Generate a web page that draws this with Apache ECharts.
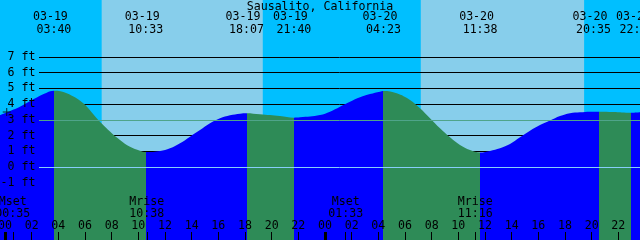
<!DOCTYPE html>
<html><head><meta charset="utf-8">
<script src="https://cdn.jsdelivr.net/npm/echarts@6/dist/echarts.min.js"></script>
<style>html,body{margin:0;padding:0;background:#00BFFF}#c{width:640px;height:240px}</style>
</head><body><div id="c"></div>
<script>
// ---------- data (hours counted from 03-19 00:00 local) ----------
const chartTitle = 'Sausalito, California';
const viewStartHour = -0.375;   // 03-18 23:37
const viewEndHour = 47.625;     // 03-20 23:37

// tide height samples
const tideHours = [-0.375, 1.125, 2.12, 3.13, 3.667, 4.63, 5.87, 6.88, 7.875, 8.625, 9.375, 10.125, 10.55,
  11.625, 12.375, 13.125, 13.875, 14.625, 15.375, 16.125, 16.875, 17.625, 18.117, 19.125, 20.625, 21.667,
  22.125, 23.625, 24.375, 25.125, 25.875, 26.625, 27.375, 28.125, 28.383, 29.38, 30.375, 31.125, 31.875,
  32.625, 33.375, 34.125, 34.875, 35.633, 36.375, 37.125, 37.875, 38.625, 39.375, 40.125, 40.875, 41.625,
  42.375, 43.125, 43.875, 44.583, 45.6, 46.95, 47.625];
const tideFeet = [3.31, 3.84, 4.31, 4.73, 4.85, 4.69, 4.05, 3.10, 2.26, 1.72, 1.29, 1.04, 0.95,
  1.02, 1.19, 1.51, 1.93, 2.35, 2.78, 3.10, 3.29, 3.39, 3.42, 3.35, 3.24, 3.14,
  3.16, 3.31, 3.52, 3.84, 4.15, 4.43, 4.64, 4.79, 4.83, 4.69, 4.26, 3.73, 3.10,
  2.46, 1.89, 1.40, 1.08, 0.92, 1.02, 1.19, 1.46, 1.89, 2.31, 2.67, 2.95, 3.24,
  3.42, 3.48, 3.52, 3.52, 3.50, 3.45, 3.48];

// high / low tide events
const eventKinds = ['High', 'Low', 'High', 'Low', 'High', 'Low', 'High', 'Low'];
const eventDates = ['03-19', '03-19', '03-19', '03-19', '03-20', '03-20', '03-20', '03-20'];
const eventTimes = ['03:40', '10:33', '18:07', '21:40', '04:23', '11:38', '20:35', '22:57'];

// moon events
const moonKinds = ['Mset', 'Mrise', 'Mset', 'Mrise'];
const moonDates = ['03-19', '03-19', '03-20', '03-20'];
const moonTimes = ['00:35', '10:38', '01:33', '11:16'];

// sun events
const sunKinds = ['rise', 'set', 'rise', 'set'];
const sunDates = ['03-19', '03-19', '03-20', '03-20'];
const sunTimes = ['07:15', '19:20', '07:11', '19:26'];

// axis ticks
const hourTicks = [0, 2, 4, 6, 8, 10, 12, 14, 16, 18, 20, 22, 24, 26, 28, 30, 32, 34, 36, 38, 40, 42, 44, 46];
const midnightTicks = [0, 24];
const footTicks = [-1, 0, 1, 2, 3, 4, 5, 6, 7];
const datumFeet = 0;
const meanSeaLevelFeet = 2.97;
const nowMark = [0.13, 3.5];

// ---------- layout ----------
const eventLabelNudgePx = [0, 0, 0, 0, 0, 0, -6, 6]; // crowded labels pushed apart
const dateLineShiftPx = -3.5;

// ---------- build ----------
function toHours(date, time) {
  const day = +date.split('-')[1];
  const [hh, mm] = time.split(':').map(Number);
  return (day - 19) * 24 + hh + mm / 60;
}
const eventHours = eventDates.map((d, i) => toHours(d, eventTimes[i]));
const moonHours = moonDates.map((d, i) => toHours(d, moonTimes[i]));
const sunHours = sunDates.map((d, i) => toHours(d, sunTimes[i]));

const FONT = 'DejaVu Sans Mono';
const FS = 11.6;
const FLOOD = '#0000FF', EBB = '#2E8B57', DAY = '#87CEEB', NIGHT = '#00BFFF';
const yMin = -4.644, yMax = 10.623;

const dayBands = [];
sunKinds.forEach((k, i) => {
  if (k === 'rise') dayBands.push([{ xAxis: sunHours[i] }, { xAxis: i + 1 < sunHours.length ? sunHours[i + 1] : viewEndHour }]);
});

const pieces = [];
eventHours.forEach((h, i) => {
  const color = eventKinds[i] === 'High' ? FLOOD : EBB;
  if (i === 0) pieces.push({ lt: h, color });
  else pieces.push({ gte: eventHours[i - 1], lt: h, color });
});
pieces.push({ gte: eventHours[eventHours.length - 1], color: eventKinds[eventKinds.length - 1] === 'High' ? EBB : FLOOD });

function nearestIndex(arr, v) {
  let best = 0;
  arr.forEach((a, i) => { if (Math.abs(a - v) < Math.abs(arr[best] - v)) best = i; });
  return best;
}
const pad2 = n => String(n).padStart(2, '0');
const labelFont = { fontFamily: FONT, fontSize: FS, color: '#000' };
const noLine = { show: false, onZero: false };

function shiftStyle(shift, lh) {
  return { fontFamily: FONT, fontSize: FS, color: '#000', lineHeight: lh,
    padding: [0, Math.max(0, -2 * shift), 0, Math.max(0, 2 * shift)] };
}
const eventRich = {};
eventHours.forEach((h, i) => {
  eventRich['d' + i] = shiftStyle(eventLabelNudgePx[i] + dateLineShiftPx, 12.4);
  eventRich['t' + i] = shiftStyle(eventLabelNudgePx[i], 12.4);
});

// event labels are split over two axes so neighbouring labels never hide each other
function eventAxis(parity) {
  return {
    type: 'value', gridIndex: 0, position: 'top', min: viewStartHour, max: viewEndHour, z: 10,
    axisLine: noLine, splitLine: { show: false }, axisTick: { show: false },
    axisLabel: { show: true, inside: true, margin: 23.5, verticalAlign: 'middle', lineHeight: 12.4,
      customValues: eventHours.filter((h, i) => i % 2 === parity),
      showMinLabel: true, showMaxLabel: true, hideOverlap: false,
      formatter: v => { const i = nearestIndex(eventHours, v); return '{d' + i + '|' + eventDates[i] + '}\n{t' + i + '|' + eventTimes[i] + '}'; },
      rich: eventRich, ...labelFont }
  };
}

const chart = echarts.init(document.getElementById('c'), null, { renderer: 'canvas' });
chart.setOption({
  animation: false,
  backgroundColor: NIGHT,
  textStyle: { fontFamily: FONT },
  title: {
    text: chartTitle, left: 'center', top: 1, padding: 0, z: 10,
    textStyle: { fontFamily: FONT, fontSize: FS, fontWeight: 'normal', color: '#000' }
  },
  grid: [
    { left: 0, right: 0, top: 0, bottom: 0, containLabel: false, outerBoundsMode: 'none' },
    { left: 39, right: 0, top: 0, bottom: 0, containLabel: false, outerBoundsMode: 'none' }
  ],
  xAxis: [
    { // hour ticks + labels (plus moon event ticks)
      type: 'value', gridIndex: 0, position: 'bottom', min: viewStartHour, max: viewEndHour, z: 10,
      axisLine: noLine, splitLine: { show: false },
      axisTick: { show: true, inside: true, length: 8, customValues: hourTicks.concat(moonHours), lineStyle: { color: '#000', width: 1 } },
      axisLabel: { show: true, inside: true, margin: 14, verticalAlign: 'middle', customValues: hourTicks,
        showMinLabel: true, showMaxLabel: true, hideOverlap: false,
        formatter: v => pad2(Math.round(v) % 24), ...labelFont }
    },
    { // midnight ticks + moon labels
      type: 'value', gridIndex: 0, position: 'bottom', min: viewStartHour, max: viewEndHour, z: 10,
      axisLine: noLine, splitLine: { show: false },
      axisTick: { show: true, inside: true, length: 8, customValues: midnightTicks, lineStyle: { color: '#000', width: 3 } },
      axisLabel: { show: true, inside: true, margin: 32, verticalAlign: 'middle', lineHeight: 11.3, customValues: moonHours,
        showMinLabel: true, showMaxLabel: true, hideOverlap: false,
        formatter: v => { const i = nearestIndex(moonHours, v); return moonKinds[i] + '\n' + moonTimes[i]; }, ...labelFont }
    },
    eventAxis(0),
    eventAxis(1),
    { type: 'value', gridIndex: 1, show: false, min: viewStartHour, max: viewEndHour, axisLine: noLine }
  ],
  yAxis: [
    {
      type: 'value', gridIndex: 0, position: 'left', min: yMin, max: yMax, z: 10,
      axisLine: noLine, axisTick: { show: false }, splitLine: { show: false },
      axisLabel: { show: true, inside: true, margin: 35.5, align: 'right', verticalAlign: 'middle', customValues: footTicks,
        showMinLabel: true, showMaxLabel: true,
        formatter: v => v + ' ft', ...labelFont }
    },
    { type: 'value', gridIndex: 1, show: false, min: yMin, max: yMax, splitLine: { show: false }, axisLine: noLine }
  ],
  visualMap: {
    type: 'piecewise', show: false, dimension: 0, seriesIndex: 1, pieces
  },
  series: [
    { // day/night background
      type: 'line', xAxisIndex: 0, yAxisIndex: 0, data: [], silent: true,
      markArea: { silent: true, z: 1, itemStyle: { color: DAY, opacity: 1 }, data: dayBands }
    },
    { // water
      type: 'line', xAxisIndex: 0, yAxisIndex: 0, z: 3, silent: true,
      smooth: 0.4, showSymbol: false,
      lineStyle: { width: 0, opacity: 0 },
      areaStyle: { opacity: 1, origin: 'start' },
      data: tideHours.map((h, i) => [h, tideFeet[i]])
    },
    { // height grid lines (behind water)
      type: 'line', xAxisIndex: 4, yAxisIndex: 1, data: [], silent: true,
      markLine: { silent: true, z: 2, symbol: ['none', 'none'], label: { show: false },
        lineStyle: { color: '#000', width: 1, type: 'solid' },
        data: footTicks.filter(v => v > 0).map(v => ({ yAxis: v })) }
    },
    { // datum and mean sea level lines (above water)
      type: 'line', xAxisIndex: 4, yAxisIndex: 1, data: [], silent: true,
      markLine: { silent: true, z: 4, symbol: ['none', 'none'], label: { show: false },
        lineStyle: { width: 1, type: 'solid' },
        data: [
          { yAxis: datumFeet, lineStyle: { color: '#87CEFA', width: 1, type: 'solid' } },
          { yAxis: meanSeaLevelFeet, lineStyle: { color: '#4FA48A', width: 1, type: 'solid' } }
        ] }
    },
    { // current time mark
      type: 'scatter', xAxisIndex: 0, yAxisIndex: 0, z: 5, silent: true,
      symbol: 'path://M0,3.5h8v1h-8z M3.5,0h1v8h-1z', symbolSize: 8,
      itemStyle: { color: '#000' },
      data: [nowMark]
    }
  ]
});
</script>
</body></html>
